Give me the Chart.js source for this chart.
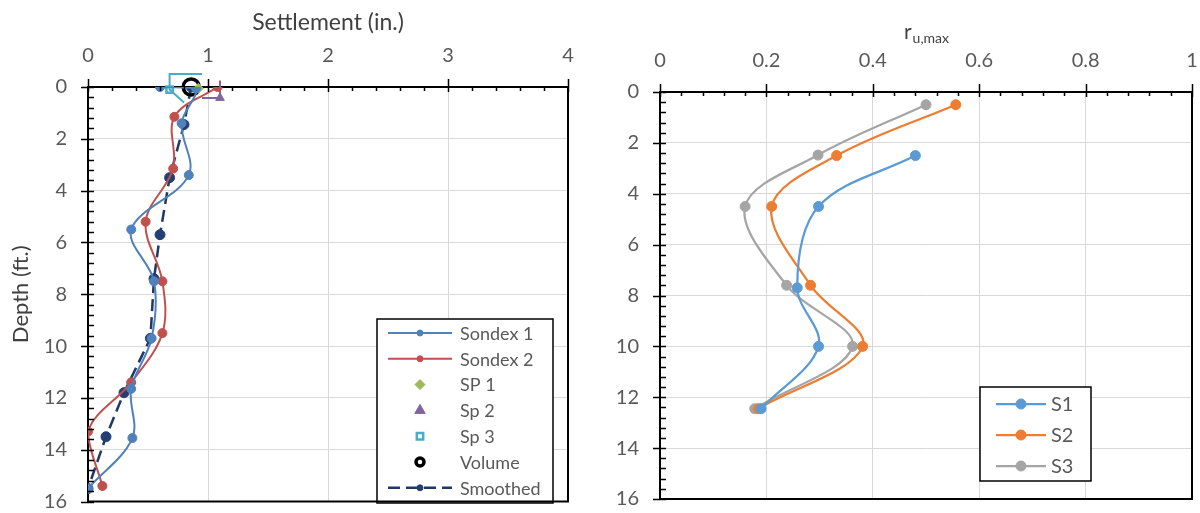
<!DOCTYPE html>
<html><head><meta charset="utf-8">
<script src="https://cdn.jsdelivr.net/npm/chart.js@4.4.1/dist/chart.umd.min.js"></script>
<style>
html,body{margin:0;padding:0;background:#fff;}
#wrap{position:relative;width:1200px;height:513px;}
.box{position:absolute;top:0;width:600px;height:513px;}
</style></head><body>
<div id="wrap">
  <div class="box" style="left:0"><canvas id="c1"></canvas></div>
  <div class="box" style="left:600px"><canvas id="c2"></canvas></div>
</div>
<script>
// ---------- Left chart data: settlement (in.) vs depth (ft.) ----------
const sondex1Depth  = [0.0, 0.05, 1.4, 3.4, 5.5, 7.5, 9.7, 11.65, 13.55, 15.5];
const sondex1Settle = [0.60, 0.90, 0.78, 0.84, 0.36, 0.55, 0.53, 0.36, 0.37, 0.00];
const sondex2Depth  = [0.0, 1.15, 3.15, 5.2, 7.5, 9.5, 11.4, 13.3, 15.4];
const sondex2Settle = [1.08, 0.72, 0.71, 0.48, 0.62, 0.62, 0.36, 0.00, 0.12];
const sp1Depth  = [0.05];
const sp1Settle = [0.92];
const sp2Depth  = [0.42, 0.42, -0.25];
const sp2Settle = [0.95, 1.10, 1.10];
const sp3Depth  = [-0.5, -0.5, 0.1, 0.6];
const sp3Settle = [0.95, 0.68, 0.68, 0.80];
const volumeDepth  = [0.0];
const volumeSettle = [0.86];
const smoothDepth  = [0.0, 1.45, 3.5, 5.7, 7.4, 9.7, 11.8, 13.5, 15.5];
const smoothSettle = [0.86, 0.80, 0.68, 0.60, 0.55, 0.52, 0.30, 0.15, 0.00];

// ---------- Right chart data: r_u,max vs depth (ft.) ----------
const s1Depth = [2.5, 4.5, 7.7, 10.0, 12.45];
const s1Ru    = [0.48, 0.298, 0.258, 0.298, 0.19];
const s2Depth = [0.5, 2.5, 4.5, 7.6, 10.0, 12.45];
const s2Ru    = [0.556, 0.332, 0.21, 0.283, 0.381, 0.185];
const s3Depth = [0.5, 2.48, 4.5, 7.6, 10.0, 12.45];
const s3Ru    = [0.50, 0.297, 0.16, 0.238, 0.362, 0.178];

const settleTicks = [0, 1, 2, 3, 4];
const ruTicks = [0, 0.2, 0.4, 0.6, 0.8, 1];
const depthTicks = [0, 2, 4, 6, 8, 10, 12, 14, 16];

const pts = (xs, ys) => xs.map((v, i) => ({x: v, y: ys[i]}));

const FONT = 'Lato, "Open Sans", sans-serif';
const TXT = '#595959';
const TICK_SIZE = 20;

const frameTicks = {
  id: 'frameTicks',
  afterDraw(chart, args, o) {
    const {ctx, chartArea: a} = chart;
    const xs = chart.scales.x, ys = chart.scales.y;
    ctx.save();
    ctx.strokeStyle = '#000';
    ctx.lineWidth = 2;
    ctx.beginPath();
    ctx.moveTo(a.right, a.top); ctx.lineTo(a.right, a.bottom); ctx.lineTo(a.left, a.bottom);
    ctx.stroke();
    ctx.lineWidth = 1.5;
    ctx.beginPath();
    const isMaj = (v, m) => Math.abs(v / m - Math.round(v / m)) < 1e-6;
    const nx = Math.round((xs.max - xs.min) / o.xMinor);
    for (let i = 0; i <= nx; i++) {
      const v = xs.min + i * o.xMinor;
      const px = Math.round(xs.getPixelForValue(v)) + 0.5;
      const m = isMaj(v, o.xMajor);
      ctx.moveTo(px, a.top - (m ? 8 : 0)); ctx.lineTo(px, a.top + (m ? 5 : 4));
    }
    const ny = Math.round((ys.max - ys.min) / o.yMinor);
    for (let i = 0; i <= ny; i++) {
      const v = ys.min + i * o.yMinor;
      const py = Math.round(ys.getPixelForValue(v)) + 0.5;
      const m = isMaj(v, o.yMajor);
      ctx.moveTo(a.left - (m ? 7 : 0), py); ctx.lineTo(a.left + 6, py);
    }
    ctx.stroke();
    ctx.restore();
  }
};

const boxLegend = {
  id: 'boxLegend',
  afterDatasetsDraw(chart, args, o) {
    const ctx = chart.ctx;
    ctx.save();
    ctx.fillStyle = '#fff';
    ctx.fillRect(o.x, o.y, o.w, o.h);
    ctx.strokeStyle = '#000';
    ctx.lineWidth = 1.5;
    ctx.strokeRect(o.x, o.y, o.w, o.h);
    ctx.font = o.font;
    ctx.textBaseline = 'middle';
    ctx.textAlign = 'left';
    chart.data.datasets.forEach((ds, i) => {
      const y = o.y + o.firstRow + i * o.rowH;
      if (ds.legendLine) {
        ctx.strokeStyle = ds.borderColor;
        ctx.lineWidth = ds.borderWidth;
        ctx.setLineDash(ds.borderDash || []);
        ctx.beginPath(); ctx.moveTo(o.lineX1, y); ctx.lineTo(o.lineX2, y); ctx.stroke();
        ctx.setLineDash([]);
      }
      ctx.fillStyle = ds.pointBackgroundColor;
      ctx.strokeStyle = ds.pointBorderColor;
      ctx.lineWidth = ds.pointBorderWidth;
      Chart.helpers.drawPoint(ctx, {pointStyle: ds.pointStyle, radius: ds.legendRadius, rotation: 0, borderWidth: ds.pointBorderWidth}, (o.lineX1 + o.lineX2) / 2, y);
      ctx.fillStyle = o.color;
      ctx.fillText(ds.label, o.textX, y + 1);
    });
    ctx.restore();
  }
};

const subTitle = {
  id: 'subTitle',
  afterDraw(chart, args, o) {
    if (!o.main) return;
    const ctx = chart.ctx, a = chart.chartArea;
    ctx.save();
    ctx.fillStyle = '#404040';
    ctx.textBaseline = 'alphabetic';
    ctx.textAlign = 'left';
    ctx.font = '21px ' + FONT;
    const w1 = ctx.measureText(o.main).width;
    ctx.font = '14px ' + FONT;
    const w2 = ctx.measureText(o.sub).width;
    const x0 = (a.left + a.right) / 2 - (w1 + w2) / 2;
    ctx.font = '21px ' + FONT;
    ctx.fillText(o.main, x0, o.y);
    ctx.font = '14px ' + FONT;
    ctx.fillText(o.sub, x0 + w1 + 1, o.y + 4);
    ctx.restore();
  }
};

function axes(xMin, xMax, xTickVals, xTitle, topH, leftW) {
  return {
    x: {
      type: 'linear', position: 'top', min: xMin, max: xMax,
      afterBuildTicks: s => { s.ticks = xTickVals.map(v => ({value: v})); },
      afterFit: s => { s.height = topH; s.paddingLeft = 0; s.paddingRight = 0; s.paddingTop = 0; s.paddingBottom = 0; },
      ticks: {color: TXT, font: {family: FONT, size: TICK_SIZE, lineHeight: 1}, padding: 21,
              callback: v => String(v)},
      grid: {color: '#d9d9d9', lineWidth: 1, drawTicks: false},
      border: {display: true, color: '#000', width: 2},
      title: xTitle ? {display: true, text: xTitle, color: '#404040', font: {family: FONT, size: 23}, padding: {top: 9, bottom: 0}} : {display: false}
    },
    y: {
      type: 'linear', reverse: true, min: 0, max: 16,
      afterBuildTicks: s => { s.ticks = depthTicks.map(v => ({value: v})); },
      afterFit: s => { s.width = leftW; s.paddingTop = 0; s.paddingBottom = 0; s.paddingLeft = 0; s.paddingRight = 0; },
      ticks: {color: TXT, font: {family: FONT, size: TICK_SIZE, lineHeight: 1}, padding: 21},
      grid: {color: '#d9d9d9', lineWidth: 1, drawTicks: false},
      border: {display: true, color: '#000', width: 2},
      title: {display: false}
    }
  };
}

// ---------- Left chart ----------
const leftScales = axes(0, 4, settleTicks, 'Settlement (in.)', 87, 88);
leftScales.y.title = {display: true, text: 'Depth (ft.)', color: '#404040', font: {family: FONT, size: 22}, padding: {top: 8, bottom: 0}};

new Chart(document.getElementById('c1'), {
  type: 'scatter',
  data: {
    datasets: [
      {label: 'Sondex 1', data: pts(sondex1Settle, sondex1Depth), showLine: true, tension: 0.35,
       borderColor: '#4F81BD', borderWidth: 2, pointStyle: 'circle', pointRadius: 4.5,
       pointBackgroundColor: '#4F81BD', pointBorderColor: '#4F81BD', pointBorderWidth: 1,
       legendLine: true, legendRadius: 3},
      {label: 'Sondex 2', data: pts(sondex2Settle, sondex2Depth), showLine: true, tension: 0.35,
       borderColor: '#C0504D', borderWidth: 2, pointStyle: 'circle', pointRadius: 4.5,
       pointBackgroundColor: '#C0504D', pointBorderColor: '#C0504D', pointBorderWidth: 1,
       legendLine: true, legendRadius: 3},
      {label: 'SP 1', data: pts(sp1Settle, sp1Depth), showLine: false,
       borderColor: '#9BBB59', borderWidth: 2, pointStyle: 'rectRot', pointRadius: 5,
       pointBackgroundColor: '#9BBB59', pointBorderColor: '#9BBB59', pointBorderWidth: 1,
       legendLine: false, legendRadius: 5, clip: 20},
      {label: 'Sp 2', data: pts(sp2Settle, sp2Depth), showLine: true, tension: 0,
       borderColor: '#8064A2', borderWidth: 2, pointStyle: 'triangle', pointRadius: [0, 5, 0],
       pointBackgroundColor: '#8064A2', pointBorderColor: '#8064A2', pointBorderWidth: 1,
       legendLine: false, legendRadius: 6, clip: 20},
      {label: 'Sp 3', data: pts(sp3Settle, sp3Depth), showLine: true, tension: 0,
       borderColor: '#4BACC6', borderWidth: 2, pointStyle: 'rect', pointRadius: [0, 0, 4.5, 0],
       pointBackgroundColor: 'rgba(0,0,0,0)', pointBorderColor: '#4BACC6', pointBorderWidth: 2.5,
       legendLine: false, legendRadius: 4.5, clip: 20},
      {label: 'Volume', data: pts(volumeSettle, volumeDepth), showLine: false,
       borderColor: '#000', borderWidth: 3, pointStyle: 'circle', pointRadius: 8,
       pointBackgroundColor: 'rgba(0,0,0,0)', pointBorderColor: '#000', pointBorderWidth: 3.5,
       legendLine: false, legendRadius: 4, clip: 20},
      {label: 'Smoothed', data: pts(smoothSettle, smoothDepth), showLine: true, tension: 0,
       borderColor: '#1F3864', borderWidth: 2.5, borderDash: [12, 6], pointStyle: 'circle', pointRadius: 5,
       pointBackgroundColor: '#243F73', pointBorderColor: '#243F73', pointBorderWidth: 1,
       legendLine: true, legendRadius: 3}
    ]
  },
  options: {
    responsive: true, maintainAspectRatio: false, animation: false,
    layout: {padding: {left: 0, top: 0, right: 32, bottom: 11}},
    scales: leftScales,
    plugins: {
      legend: {display: false}, tooltip: {enabled: false},
      boxLegend: {x: 377, y: 319, w: 176, h: 184, firstRow: 14, rowH: 25.8,
                  lineX1: 388, lineX2: 452, textX: 460, font: '18px ' + FONT, color: TXT},
      frameTicks: {xMinor: 0.2, xMajor: 1, yMinor: 0.4, yMajor: 2},
      subTitle: {}
    }
  },
  plugins: [boxLegend, frameTicks, subTitle]
});

// ---------- Right chart ----------
const rightScales = axes(0, 1, ruTicks, null, 92, 60);
new Chart(document.getElementById('c2'), {
  type: 'scatter',
  data: {
    datasets: [
      {label: 'S1', data: pts(s1Ru, s1Depth), showLine: true, tension: 0.35,
       borderColor: '#5B9BD5', borderWidth: 2.25, pointStyle: 'circle', pointRadius: 5,
       pointBackgroundColor: '#5B9BD5', pointBorderColor: '#5B9BD5', pointBorderWidth: 1,
       legendLine: true, legendRadius: 5},
      {label: 'S2', data: pts(s2Ru, s2Depth), showLine: true, tension: 0.35,
       borderColor: '#ED7D31', borderWidth: 2.25, pointStyle: 'circle', pointRadius: 5,
       pointBackgroundColor: '#ED7D31', pointBorderColor: '#ED7D31', pointBorderWidth: 1,
       legendLine: true, legendRadius: 5},
      {label: 'S3', data: pts(s3Ru, s3Depth), showLine: true, tension: 0.35,
       borderColor: '#A5A5A5', borderWidth: 2.25, pointStyle: 'circle', pointRadius: 5,
       pointBackgroundColor: '#A5A5A5', pointBorderColor: '#A5A5A5', pointBorderWidth: 1,
       legendLine: true, legendRadius: 5}
    ]
  },
  options: {
    responsive: true, maintainAspectRatio: false, animation: false,
    layout: {padding: {left: 0, top: 0, right: 8, bottom: 14}},
    scales: rightScales,
    plugins: {
      legend: {display: false}, tooltip: {enabled: false},
      boxLegend: {x: 380, y: 387, w: 111, h: 94, firstRow: 17, rowH: 31,
                  lineX1: 396, lineX2: 446, textX: 451, font: '20px ' + FONT, color: TXT},
      frameTicks: {xMinor: 0.04, xMajor: 0.2, yMinor: 0.4, yMajor: 2},
      subTitle: {main: 'r', sub: 'u,max', y: 39}
    }
  },
  plugins: [boxLegend, frameTicks, subTitle]
});
</script>
</body></html>
